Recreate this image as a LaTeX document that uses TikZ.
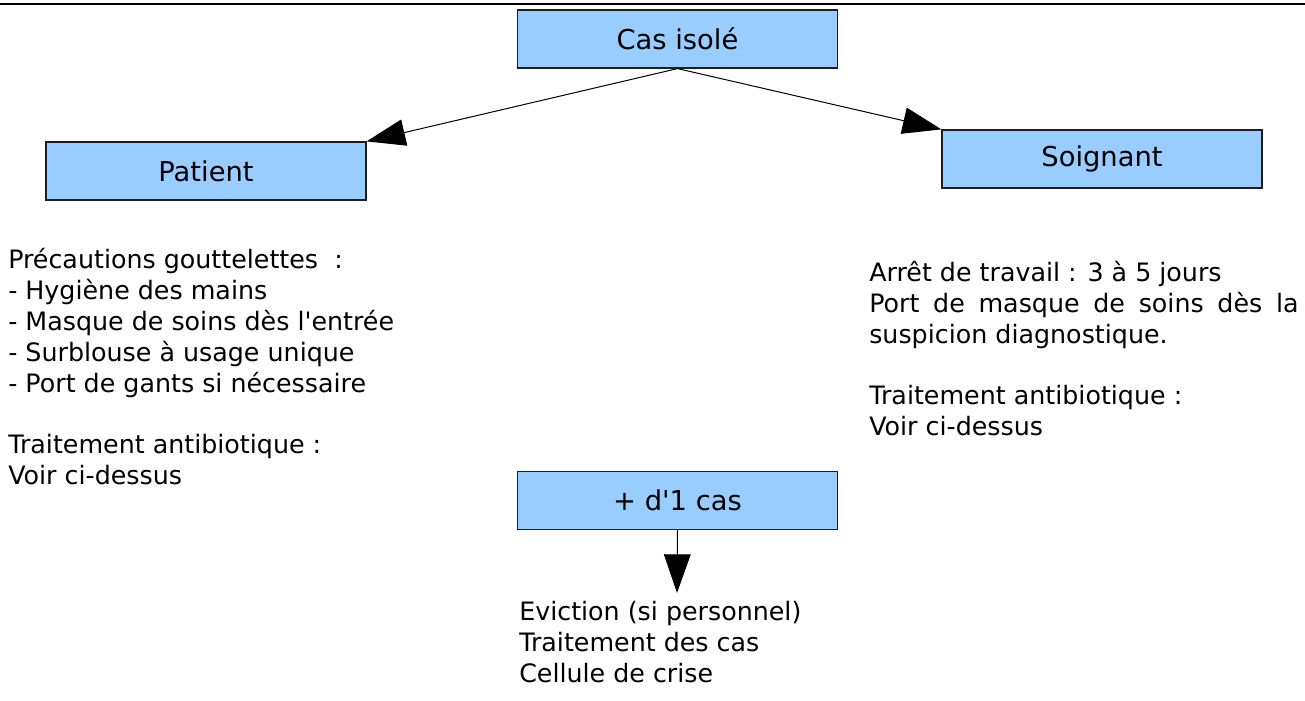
\documentclass[tikz,border=0pt]{standalone}
\usepackage{fontspec}
\setmainfont{DejaVu Sans}[Ligatures=TeXOff]
\usetikzlibrary{arrows.meta}

\tikzset{
  casbox/.style={draw={rgb, 255:red, 30; green, 30; blue, 30}, line width=0.9pt,
    fill={rgb, 255:red, 153; green, 204; blue, 255}, fill opacity=1,
    minimum width=240pt, minimum height=43.5pt, inner sep=0pt,
    font=\fontsize{20.5}{24}\selectfont},
  texte/.style={inner sep=0pt, align=left, font=\fontsize{19}{23.2}\selectfont},
  bigtip/.style={line width=0.75pt, -{Triangle[length=29pt,width=20pt]}}
}

\begin{document}
\begin{tikzpicture}[x=0.75pt,y=0.75pt,yscale=-1,xscale=1]
        \useasboundingbox (0,0) rectangle (1305,700);

        %Straight Lines: top rule
        \draw  [line width=1.1pt]  (0,4) -- (1305,4) ;

        %Shape: Rectangle
        \node [casbox] (casisole) at (677.5,39) {Cas isolé};
        %Shape: Rectangle
        \node [casbox] (patient) at (206,171) {Patient};
        %Shape: Rectangle
        \node [casbox] (soignant) at (1102,159) {Soignant};
        %Shape: Rectangle
        \node [casbox] (plusdun) at (677.5,500.5) {+ d'1 cas};
        \coordinate (pointe) at (677,593);

        %Straight Lines [arrows]
        \draw  [bigtip]  (casisole.south) -- (patient.north east) ;
        \draw  [bigtip]  (casisole.south) -- (soignant.north west) ;
        \draw  [bigtip]  (plusdun.south) -- (pointe) ;

        % Text blocks (base = last line)
        \node [texte, anchor=base west] (txtpatient) at (8,484) {Précautions gouttelettes\ \ :\\- Hygiène des mains\\- Masque de soins dès l'entrée\\- Surblouse à usage unique\\- Port de gants si nécessaire\\[22.5pt]Traitement antibiotique :\\Voir ci-dessus};
        \node [texte, anchor=base west] (txtsoignant) at (869,435) {Arrêt de travail : 3 à 5 jours\\\makebox[322pt][s]{Port de masque de soins dès la}\\suspicion diagnostique.\\[22.5pt]Traitement antibiotique :\\Voir ci-dessus};
        \node [texte, anchor=base west] (txtcas) at (519,682) {Eviction (si personnel)\\Traitement des cas\\Cellule de crise};

    \end{tikzpicture}
\end{document}
